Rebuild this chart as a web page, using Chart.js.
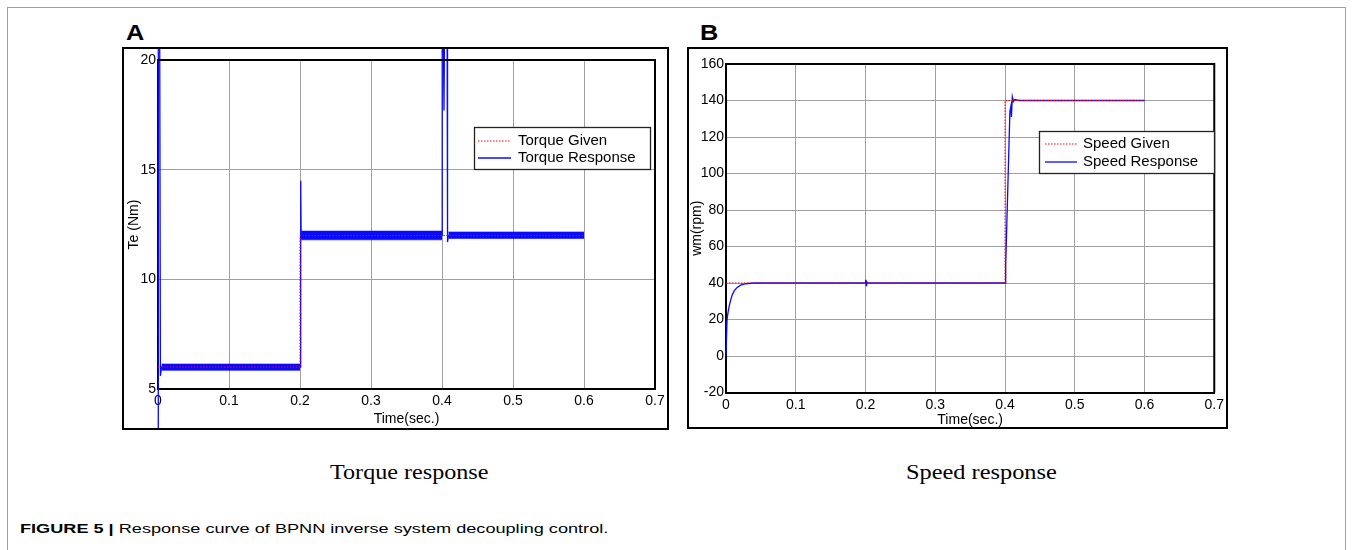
<!DOCTYPE html>
<html>
<head>
<meta charset="utf-8">
<script src="https://cdn.jsdelivr.net/npm/chart.js@4.4.0/dist/chart.umd.min.js"></script>
<style>
  body { margin: 0; background: #fff; width: 1352px; height: 550px; position: relative; overflow: hidden;
         font-family: "Liberation Sans", Arial, sans-serif; }
  .frame { position: absolute; left: 7px; top: 7px; width: 1337px; height: 600px;
           border: 1px solid #a0a0a0; border-bottom: none; }
  .tag { position: absolute; font-weight: bold; font-size: 22px; line-height: 22px;
         transform: scaleX(1.15); transform-origin: left top; }
  .panel { position: absolute; }
  .cap { position: absolute; font-family: "Liberation Serif", "Times New Roman", serif;
         font-size: 20px; line-height: 20px; white-space: nowrap; }
  .figcap { position: absolute; left: 20px; top: 522px; font-size: 13.5px; line-height: 13.5px;
            white-space: nowrap; transform-origin: left top; }
</style>
</head>
<body>
<div class="frame"></div>

<div class="tag" style="left:126px; top:22px;">A</div>
<div class="tag" style="left:700px; top:22px;">B</div>

<canvas id="torqueChart" class="panel" width="547" height="383" style="left:122px; top:47px;"></canvas>
<canvas id="speedChart" class="panel" width="541" height="382" style="left:687px; top:47px;"></canvas>

<div class="cap" data-center="408.5" data-width="158" style="top:462px;">Torque response</div>
<div class="cap" data-center="981" data-width="151" style="top:462px;">Speed response</div>

<div class="figcap" data-width="588"><b>FIGURE 5 |</b> Response curve of BPNN inverse system decoupling control.</div>

<script>
// shared time axis
const timeTicks = [0, 0.1, 0.2, 0.3, 0.4, 0.5, 0.6, 0.7];
const timeTickLabels = ['0', '0.1', '0.2', '0.3', '0.4', '0.5', '0.6', '0.7'];

// torque (Nm)
const torqueTicks = [5, 10, 15, 20];
const torqueGivenT = [0, 0.2, 0.2, 0.6];
const torqueGivenV = [6, 6, 12, 12];
const torqueRespT = [0, 0.0004, 0.0024, 0.0034, 0.005, 0.2, 0.201, 0.2016, 0.203,
                     0.4, 0.4003, 0.402, 0.4028, 0.4035, 0.4072, 0.4078, 0.409, 0.6];
const torqueRespV = [3.0, 21, 21, 5.6, 6, 6, 14.5, 11.9, 12,
                     12, 21, 21, 17.7, 21, 21, 11.7, 12, 12];
// ripple band of the torque response (steady-state chatter)
const torqueBandStart = [0.005, 0.2016, 0.409];
const torqueBandEnd = [0.2, 0.4, 0.6];
const torqueBandLo = [5.85, 11.8, 11.86];
const torqueBandHi = [6.14, 12.2, 12.16];

// speed (rpm)
const speedTicks = [-20, 0, 20, 40, 60, 80, 100, 120, 140, 160];
const speedGivenT = [0, 0.4, 0.4, 0.6];
const speedGivenV = [40, 40, 140, 140];
const speedRespT = [0, 0.0015, 0.003, 0.005, 0.007, 0.009, 0.012, 0.016, 0.021, 0.028, 0.04,
                    0.1995, 0.2003, 0.201, 0.2016, 0.203,
                    0.4, 0.401, 0.407, 0.4085, 0.4092, 0.4105, 0.412, 0.414, 0.42, 0.6];
const speedRespV = [0, 20, 24, 28, 31, 33.5, 35.8, 37.6, 38.8, 39.6, 40,
                    40, 41.8, 38.6, 40.8, 40,
                    40, 50, 134, 137, 131, 142, 139.5, 140.5, 140, 140];

const BLUE = '#0a0aff';
const RED = '#ff0000';
const FONT = { family: '"Liberation Sans", Arial, sans-serif', size: 14 };

function pts(t, v) {
  return t.map((x, i) => ({ x: x, y: v[i] }));
}

function bandSeries(start, end, level) {
  const out = [];
  start.forEach((s, i) => {
    out.push({ x: s, y: level[i] }, { x: end[i], y: level[i] });
    if (i < start.length - 1) out.push({ x: end[i], y: null });
  });
  return out;
}

// closes the axes box, draws the boxed legend and the panel frame
const panelFrame = {
  id: 'panelFrame',
  afterDraw(chart, args, opts) {
    const { ctx, chartArea: a, width, height } = chart;
    ctx.save();
    ctx.strokeStyle = '#000';
    ctx.lineWidth = 2;
    ctx.beginPath();
    ctx.moveTo(a.left, a.top);
    ctx.lineTo(a.right, a.top);
    ctx.lineTo(a.right, a.bottom);
    ctx.stroke();

    const [lx, ly, lw, lh] = opts.box;
    ctx.fillStyle = '#fff';
    ctx.fillRect(lx, ly, lw, lh);
    ctx.lineWidth = 1.3;
    ctx.strokeStyle = '#222';
    ctx.strokeRect(lx + 0.5, ly + 0.5, lw, lh);
    ctx.font = '15px "Liberation Sans", Arial, sans-serif';
    ctx.textBaseline = 'middle';
    let row = 0;
    chart.data.datasets.forEach(ds => {
      if (!ds.label) return;
      const y = ly + opts.rows[row++];
      ctx.beginPath();
      ctx.strokeStyle = ds.borderColor;
      ctx.lineWidth = ds.borderWidth;
      ctx.setLineDash(ds.borderDash || []);
      ctx.moveTo(lx + opts.lineX[0], y);
      ctx.lineTo(lx + opts.lineX[1], y);
      ctx.stroke();
      ctx.setLineDash([]);
      ctx.fillStyle = '#000';
      ctx.fillText(ds.label, lx + opts.textX, y);
    });

    ctx.lineWidth = 2;
    ctx.strokeStyle = '#000';
    ctx.strokeRect(1, 1, width - 2, height - 2);
    ctx.restore();
  }
};

function makeChart(id, p) {
  return new Chart(document.getElementById(id), {
    type: 'line',
    data: {
      datasets: [
        { label: p.givenLabel, data: pts(p.givenT, p.givenV), borderColor: RED, borderWidth: 1,
          borderDash: [1.5, 1.5], order: 0 },
        { label: p.respLabel, data: pts(p.respT, p.respV), borderColor: BLUE, borderWidth: 1.3,
          clip: false, order: 1 },
        ...(p.bandStart ? [
          { data: bandSeries(p.bandStart, p.bandEnd, p.bandHi), borderColor: BLUE, borderWidth: 0.6,
            backgroundColor: BLUE, fill: '+1', order: 2 },
          { data: bandSeries(p.bandStart, p.bandEnd, p.bandLo), borderColor: BLUE, borderWidth: 0.6,
            fill: false, order: 3 }
        ] : [])
      ]
    },
    options: {
      responsive: false,
      animation: false,
      devicePixelRatio: 1,
      elements: { point: { radius: 0 }, line: { tension: 0 } },
      layout: { padding: { left: 0, top: p.padTop, right: p.padRight, bottom: 0 } },
      plugins: {
        legend: { display: false },
        tooltip: { enabled: false },
        panelFrame: p.legend
      },
      scales: {
        x: {
          type: 'linear', min: 0, max: 0.7,
          afterBuildTicks: s => { s.ticks = timeTicks.map(v => ({ value: v })); },
          afterFit: s => { s.height = p.xHeight; },
          ticks: { autoSkip: false, maxRotation: 0, padding: p.xTickPad, color: '#000', font: FONT,
                   callback: (v, i) => timeTickLabels[i] },
          grid: { color: '#a0a0a0', lineWidth: 1, drawTicks: false },
          border: { color: '#000', width: 2 },
          title: { display: true, text: 'Time(sec.)', color: '#000', font: FONT,
                   padding: { top: 0, bottom: p.xTitlePad } }
        },
        y: {
          type: 'linear', min: p.yTicks[0], max: p.yTicks[p.yTicks.length - 1],
          afterBuildTicks: s => { s.ticks = p.yTicks.map(v => ({ value: v })); },
          afterFit: s => { s.width = p.yWidth; },
          ticks: { autoSkip: false, padding: 2, color: '#000', font: FONT,
                   callback: v => String(v) },
          grid: { color: '#a0a0a0', lineWidth: 1, drawTicks: false },
          border: { color: '#000', width: 2 },
          title: { display: true, text: p.yTitle, color: '#000', font: FONT,
                   padding: { top: p.yTitlePad, bottom: 0 } }
        }
      }
    },
    plugins: [panelFrame]
  });
}

makeChart('torqueChart', {
  givenLabel: 'Torque Given', respLabel: 'Torque Response',
  givenT: torqueGivenT, givenV: torqueGivenV, respT: torqueRespT, respV: torqueRespV,
  bandStart: torqueBandStart, bandEnd: torqueBandEnd, bandLo: torqueBandLo, bandHi: torqueBandHi,
  yTicks: torqueTicks, yTitle: 'Te (Nm)',
  padTop: 13, padRight: 14, yWidth: 36, xHeight: 41, xTickPad: 4, xTitlePad: 2.5, yTitlePad: 3.5,
  legend: { box: [352, 80, 176, 42], rows: [14, 31], lineX: [4, 37], textX: 44 }
});

makeChart('speedChart', {
  givenLabel: 'Speed Given', respLabel: 'Speed Response',
  givenT: speedGivenT, givenV: speedGivenV, respT: speedRespT, respV: speedRespV,
  yTicks: speedTicks, yTitle: 'wm(rpm)',
  padTop: 17, padRight: 9, yWidth: 39, xHeight: 36.5, xTickPad: 4, xTitlePad: 0, yTitlePad: 2,
  legend: { box: [352, 84, 175, 42], rows: [13, 31], lineX: [6, 38], textX: 44 }
});

// stretch caption text to its column width
document.querySelectorAll('.cap').forEach(el => {
  const k = +el.dataset.width / el.offsetWidth;
  el.style.left = (+el.dataset.center - el.dataset.width / 2) + 'px';
  el.style.transformOrigin = 'left top';
  el.style.transform = 'scaleX(' + k + ')';
});
const fig = document.querySelector('.figcap');
fig.style.transform = 'scaleX(' + (+fig.dataset.width / fig.offsetWidth) + ')';
</script>
</body>
</html>
